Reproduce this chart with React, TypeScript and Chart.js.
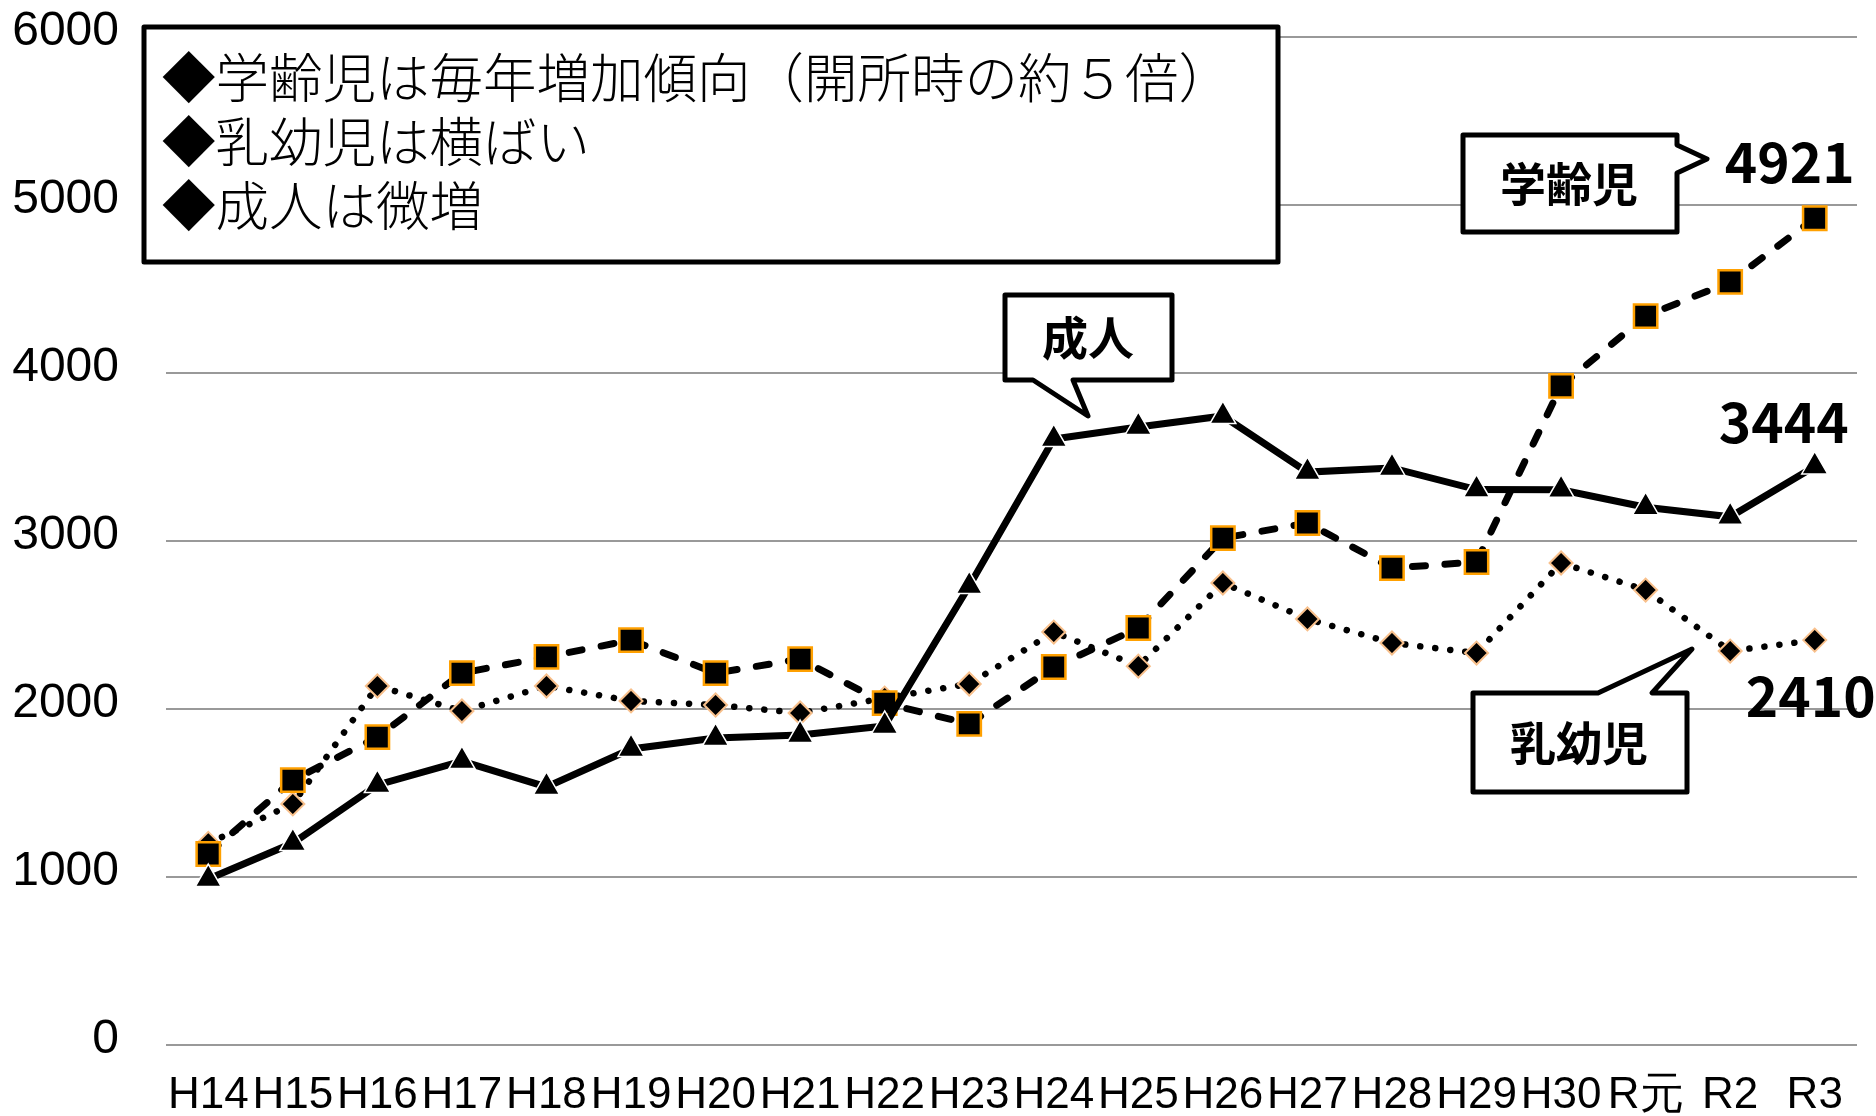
import React, { useEffect, useRef } from 'react';
import { Chart, registerables } from 'chart.js';

Chart.register(...registerables);

// ---- data ----
const categories = ['H14', 'H15', 'H16', 'H17', 'H18', 'H19', 'H20', 'H21', 'H22', 'H23', 'H24', 'H25', 'H26', 'H27', 'H28', 'H29', 'H30', 'R元', 'R2', 'R3'];
const gakureiji = [1137, 1577, 1833, 2214, 2310, 2410, 2214, 2297, 2035, 1911, 2250, 2482, 3017, 3107, 2839, 2875, 3923, 4339, 4542, 4921];
const nyuyoji = [1200, 1435, 2137, 1988, 2137, 2048, 2024, 1976, 2065, 2149, 2458, 2255, 2750, 2536, 2393, 2333, 2869, 2708, 2345, 2410];
const seijin = [988, 1202, 1548, 1690, 1536, 1762, 1827, 1845, 1899, 2732, 3607, 3679, 3744, 3410, 3435, 3306, 3305, 3201, 3144, 3444];
const yMin = 0;
const yMax = 6000;
const yStep = 1000;
const seriesNames = ['学齢児', '乳幼児', '成人'];
const noteLines = ['◆学齢児は毎年増加傾向（開所時の約５倍）', '◆乳幼児は横ばい', '◆成人は微増'];

const JP = '"Noto Sans CJK JP", "Noto Sans CJK SC", sans-serif';

type Pt = [number, number];

function drawCallout(ctx: CanvasRenderingContext2D, pts: Pt[], text: string, tx: number, ty: number) {
  ctx.save();
  ctx.beginPath();
  pts.forEach((p, i) => (i === 0 ? ctx.moveTo(p[0], p[1]) : ctx.lineTo(p[0], p[1])));
  ctx.closePath();
  ctx.fillStyle = '#ffffff';
  ctx.fill();
  ctx.lineWidth = 5;
  ctx.lineJoin = 'round';
  ctx.strokeStyle = '#000000';
  ctx.stroke();
  ctx.fillStyle = '#000000';
  ctx.font = `bold 46px ${JP}`;
  ctx.textAlign = 'center';
  ctx.textBaseline = 'middle';
  ctx.fillText(text, tx, ty);
  ctx.restore();
}

const annotationPlugin = {
  id: 'annotationPlugin',
  afterDatasetsDraw(chart: any) {
    const ctx: CanvasRenderingContext2D = chart.ctx;
    ctx.save();
    // summary box
    ctx.beginPath();
    ctx.rect(144, 27, 1134, 235);
    ctx.fillStyle = '#ffffff';
    ctx.fill();
    ctx.lineWidth = 5;
    ctx.lineJoin = 'round';
    ctx.strokeStyle = '#000000';
    ctx.stroke();
    ctx.fillStyle = '#000000';
    ctx.font = `300 53.5px ${JP}`;
    ctx.textAlign = 'left';
    ctx.textBaseline = 'middle';
    noteLines.forEach((t, i) => ctx.fillText(t, 162, 78 + i * 64));
    ctx.restore();

    // callouts
    drawCallout(ctx, [[1463, 135], [1677, 135], [1677, 145], [1707, 159], [1677, 173], [1677, 232], [1463, 232]], seriesNames[0], 1569, 184);
    drawCallout(ctx, [[1005, 295], [1172, 295], [1172, 380], [1073, 380], [1088, 416], [1033, 380], [1005, 380]], seriesNames[2], 1088, 338);
    drawCallout(ctx, [[1473, 693], [1598, 693], [1692, 649], [1652, 693], [1687, 693], [1687, 792], [1473, 792]], seriesNames[1], 1579, 743);

    // last-value labels anchored to last points
    const offsets: Record<string, Pt> = { '学齢児': [-25, -56], '成人': [-31, -44], '乳幼児': [-4, 56] };
    ctx.save();
    ctx.fillStyle = '#000000';
    ctx.font = `bold 55px ${JP}`;
    ctx.textAlign = 'center';
    ctx.textBaseline = 'middle';
    chart.data.datasets.forEach((ds: any, i: number) => {
      const meta = chart.getDatasetMeta(i);
      const last = meta.data[meta.data.length - 1];
      const off = offsets[ds.label];
      const v = ds.data[ds.data.length - 1];
      ctx.fillText(String(v), last.x + off[0], last.y + off[1]);
    });
    ctx.restore();
  },
};

export default function App() {
  const ref = useRef<HTMLCanvasElement>(null);

  useEffect(() => {
    const canvas = ref.current!;
    const chart = new Chart(canvas, {
      type: 'line',
      data: {
        labels: categories,
        datasets: [
          {
            label: seriesNames[2],
            data: seijin,
            order: 1,
            borderColor: '#000000',
            borderWidth: 7,
            tension: 0,
            fill: false,
            pointStyle: 'triangle',
            pointRadius: 15,
            pointBackgroundColor: '#000000',
            pointBorderColor: '#ffffff',
            pointBorderWidth: 1.5,
          },
          {
            label: seriesNames[0],
            data: gakureiji,
            order: 2,
            borderColor: '#000000',
            borderWidth: 7,
            borderDash: [13, 19.5],
            borderCapStyle: 'round',
            tension: 0,
            fill: false,
            pointStyle: 'rect',
            pointRadius: 16.5,
            pointBackgroundColor: '#000000',
            pointBorderColor: '#FFA000',
            pointBorderWidth: 2.5,
          },
          {
            label: seriesNames[1],
            data: nyuyoji,
            order: 3,
            borderColor: '#000000',
            borderWidth: 6.5,
            borderDash: [0.1, 15],
            borderCapStyle: 'round',
            tension: 0,
            fill: false,
            pointStyle: 'rectRot',
            pointRadius: 11.5,
            pointBackgroundColor: '#000000',
            pointBorderColor: '#F8C08C',
            pointBorderWidth: 2,
          },
        ],
      },
      options: {
        responsive: false,
        animation: false,
        devicePixelRatio: 1,
        events: [],
        layout: { padding: { top: 37, right: 11, left: 0, bottom: 0 } },
        plugins: {
          legend: { display: false },
          tooltip: { enabled: false },
          title: { display: false },
        },
        scales: {
          x: {
            offset: true,
            grid: { display: false, drawTicks: false },
            border: { display: false },
            ticks: {
              color: '#000000',
              padding: 24,
              maxRotation: 0,
              autoSkip: false,
              font: { family: '"Liberation Sans", Arial, sans-serif', size: 44 },
            },
            afterFit: (scale: any) => {
              scale.height = 71;
              scale.paddingLeft = 0;
              scale.paddingRight = 0;
            },
          },
          y: {
            min: yMin,
            max: yMax,
            grid: { color: '#999999', lineWidth: 2, drawTicks: false },
            border: { display: false },
            ticks: {
              stepSize: yStep,
              color: '#000000',
              padding: 47,
              font: { family: '"Liberation Sans", Arial, sans-serif', size: 48, lineHeight: '10px' },
              callback: (v: any) => [String(v), ''],
            },
            afterFit: (scale: any) => {
              scale.width = 166;
              scale.paddingTop = 0;
              scale.paddingBottom = 0;
            },
          },
        },
      },
      plugins: [annotationPlugin],
    } as any);
    return () => chart.destroy();
  }, []);

  return (
    <div style={{ position: 'absolute', left: 0, top: 0, width: 1876, height: 1116, background: '#ffffff' }}>
      <canvas ref={ref} width={1876} height={1116} style={{ display: 'block', width: 1876, height: 1116 }} />
    </div>
  );
}
